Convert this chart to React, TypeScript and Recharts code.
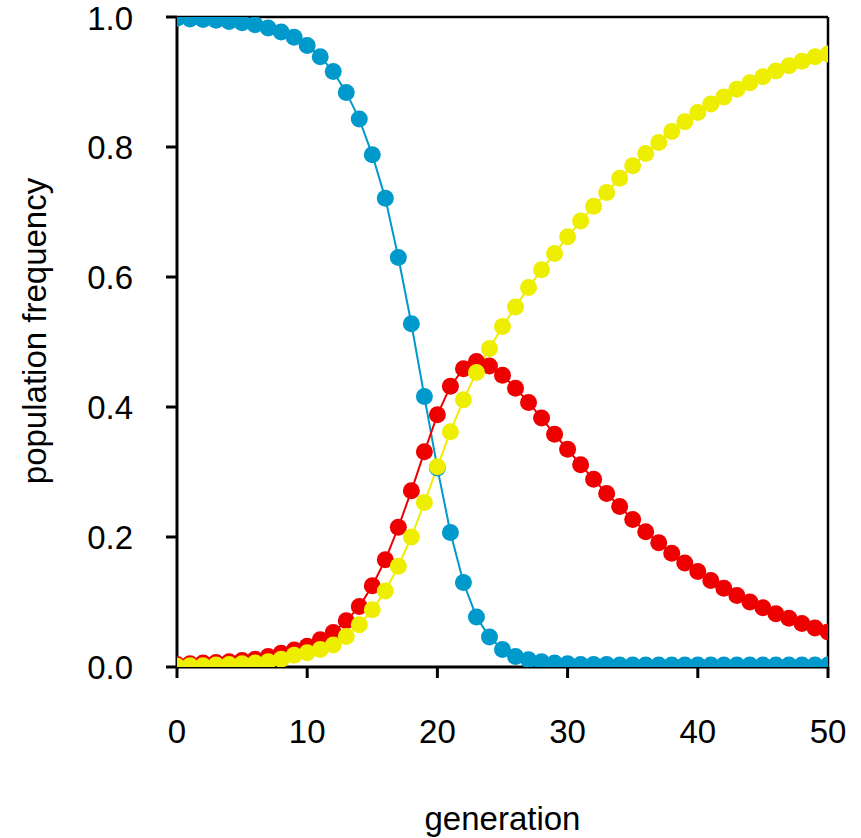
import React from 'react';
import { LineChart, Line, XAxis, YAxis } from 'recharts';

const generations = [0,1,2,3,4,5,6,7,8,9,10,11,12,13,14,15,16,17,18,19,20,21,22,23,24,25,26,27,28,29,30,31,32,33,34,35,36,37,38,39,40,41,42,43,44,45,46,47,48,49,50];

const freqBlue = [0.998,0.997,0.996,0.995,0.993,0.991,0.988,0.983,0.977,0.969,0.956,0.939,0.916,0.884,0.843,0.788,0.721,0.630,0.528,0.416,0.306,0.207,0.130,0.077,0.046,0.027,0.016,0.011,0.008,0.006,0.005,0.004,0.004,0.004,0.003,0.003,0.003,0.003,0.003,0.003,0.003,0.003,0.003,0.003,0.003,0.003,0.003,0.003,0.003,0.003,0.003];

const freqRed = [0.004,0.005,0.006,0.007,0.008,0.010,0.012,0.016,0.021,0.026,0.032,0.042,0.053,0.071,0.093,0.125,0.165,0.215,0.271,0.331,0.388,0.432,0.459,0.470,0.463,0.449,0.429,0.407,0.383,0.358,0.335,0.311,0.289,0.267,0.247,0.227,0.208,0.191,0.175,0.160,0.147,0.133,0.121,0.110,0.100,0.091,0.082,0.075,0.067,0.060,0.054];

const freqYellow = [0.001,0.002,0.002,0.003,0.004,0.005,0.006,0.008,0.012,0.018,0.022,0.027,0.034,0.047,0.065,0.088,0.117,0.155,0.200,0.253,0.308,0.362,0.411,0.453,0.490,0.524,0.554,0.584,0.611,0.636,0.662,0.686,0.709,0.730,0.752,0.771,0.790,0.807,0.824,0.839,0.853,0.866,0.877,0.889,0.899,0.908,0.917,0.925,0.932,0.939,0.943];

const xTicks = [0, 10, 20, 30, 40, 50];
const yTicks = [0, 0.2, 0.4, 0.6, 0.8, 1.0];

const data = generations.map((g, i) => ({
  gen: g,
  blue: freqBlue[i],
  red: freqRed[i],
  yellow: freqYellow[i],
}));

const FONT = '"Liberation Sans", Arial, Helvetica, sans-serif';
const tickStyle = { fontSize: 33, fill: '#000', fontFamily: FONT };

const YLabel = (props: any) => {
  const vb = props.viewBox || { x: 0, y: 17, width: 177, height: 650 };
  const cx = vb.x + 46;
  const cy = vb.y + vb.height / 2 - 11;
  return (
    <text
      x={cx}
      y={cy}
      transform={`rotate(-90 ${cx} ${cy})`}
      textAnchor="middle"
      fontSize={33}
      fontFamily={FONT}
      fill="#000"
    >
      population frequency
    </text>
  );
};

export default function App() {
  return (
    <div style={{ position: 'absolute', left: 0, top: 0, background: '#fff' }}>
      <LineChart
        width={861}
        height={838}
        data={data}
        margin={{ top: 13, right: 29, bottom: 0, left: 0 }}
      >
        <XAxis
          xAxisId="bottom"
          dataKey="gen"
          type="number"
          domain={[0, 50]}
          ticks={xTicks}
          allowDataOverflow
          orientation="bottom"
          height={171}
          tickSize={11}
          tickMargin={42}
          tick={tickStyle}
          axisLine={{ stroke: '#000', strokeWidth: 3 }}
          tickLine={{ stroke: '#000', strokeWidth: 3 }}
          label={{
            value: 'generation',
            position: 'insideBottom',
            offset: 8,
            fontSize: 33,
            fontFamily: FONT,
            fill: '#000',
          }}
        />
        <XAxis
          xAxisId="top"
          dataKey="gen"
          type="number"
          domain={[0, 50]}
          ticks={xTicks}
          allowDataOverflow
          orientation="top"
          height={4}
          tickSize={3}
          tick={false}
          axisLine={{ stroke: '#000', strokeWidth: 2.5 }}
          tickLine={{ stroke: '#000', strokeWidth: 2 }}
        />
        <YAxis
          yAxisId="left"
          type="number"
          domain={[0, 1]}
          ticks={yTicks}
          allowDataOverflow
          orientation="left"
          width={177}
          tickSize={11}
          tickMargin={33}
          tick={tickStyle}
          tickFormatter={(v: number) => v.toFixed(1)}
          axisLine={{ stroke: '#000', strokeWidth: 3 }}
          tickLine={{ stroke: '#000', strokeWidth: 3 }}
          label={{ content: YLabel }}
        />
        <YAxis
          yAxisId="right"
          type="number"
          domain={[0, 1]}
          ticks={yTicks}
          allowDataOverflow
          orientation="right"
          width={4}
          tickSize={3}
          tick={false}
          axisLine={{ stroke: '#000', strokeWidth: 2.5 }}
          tickLine={{ stroke: '#000', strokeWidth: 2 }}
        />
        <Line
          xAxisId="bottom"
          yAxisId="left"
          type="linear"
          dataKey="blue"
          stroke="#0099cc"
          strokeWidth={2}
          dot={{ r: 8.5, fill: '#0099cc', stroke: 'none', strokeWidth: 0 }}
          activeDot={false}
          isAnimationActive={false}
        />
        <Line
          xAxisId="bottom"
          yAxisId="left"
          type="linear"
          dataKey="red"
          stroke="#ee0000"
          strokeWidth={2}
          dot={{ r: 8.5, fill: '#ee0000', stroke: 'none', strokeWidth: 0 }}
          activeDot={false}
          isAnimationActive={false}
        />
        <Line
          xAxisId="bottom"
          yAxisId="left"
          type="linear"
          dataKey="yellow"
          stroke="#eeee00"
          strokeWidth={2}
          dot={{ r: 8.5, fill: '#eeee00', stroke: 'none', strokeWidth: 0 }}
          activeDot={false}
          isAnimationActive={false}
        />
      </LineChart>
    </div>
  );
}
